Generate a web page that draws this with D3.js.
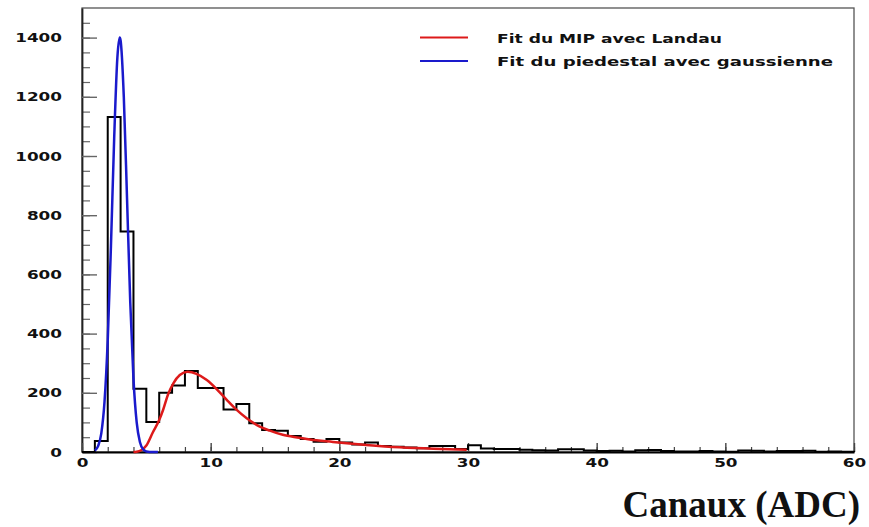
<!DOCTYPE html>
<html>
<head>
<meta charset="utf-8">
<script src="https://cdn.jsdelivr.net/npm/d3@7"></script>
<style>
  html, body { margin: 0; padding: 0; background: #fff; }
  svg { display: block; }
</style>
</head>
<body>
<svg id="chart" width="869" height="527"></svg>
<script>
// ADC spectrum: counts per channel (bins of width 1, from 0 to 60)
const binCounts = [
  0, 37, 1132, 745, 214, 101, 200, 225, 274, 216,
  216, 144, 162, 97, 74, 72, 54, 44, 35, 44,
  32, 25, 32, 20, 18, 15, 13, 20, 20, 10,
  23, 12, 10, 10, 8, 6, 5, 9, 9, 5,
  3, 4, 2, 6, 7, 3, 2, 2, 3, 2,
  1, 5, 4, 2, 3, 3, 4, 1, 2, 1
];

// Pedestal fit (gaussian), sampled along the curve
const gaussX = [1.0, 1.25, 1.5, 1.75, 2.0, 2.25, 2.5, 2.75, 2.93, 3.0, 3.25, 3.5, 3.75, 4.0, 4.25, 4.5, 4.75, 5.0, 5.5, 5.9];
const gaussY = [5, 20, 63, 170, 378, 696, 1058, 1333, 1400, 1390, 1199, 856, 506, 248, 100, 34, 9, 2, 0, 0];

// MIP fit (Landau), sampled along the curve
const landauX = [4.0, 4.25, 4.6, 5.0, 5.5, 6.0, 6.3, 6.7, 7.1, 7.6, 8.2, 8.9, 9.7, 10.5, 11.25, 12.0, 12.8, 13.6, 14.6, 15.6, 16.9, 17.7, 19.5, 22.1, 24.7, 27.3, 29.9];
const landauY = [0, 1, 6, 22, 66, 108, 142, 196, 232, 260, 271, 264, 243, 211, 176, 143, 114, 91, 72, 58, 48, 42, 34, 24, 16, 11, 8];

const xMajorTicks = [0, 10, 20, 30, 40, 50, 60];
const xMinorTicks = d3.range(0, 61, 2);
const yMajorTicks = [0, 200, 400, 600, 800, 1000, 1200, 1400];
const yMinorTicks = d3.range(0, 1451, 50);

const legendLabels = ["Fit du MIP avec Landau", "Fit du piedestal avec gaussienne"];
const legendColors = ["#dd1a1a", "#1a1acc"];
const axisTitle = "Canaux (ADC)";

const svg = d3.select("#chart");

const x = d3.scaleLinear().domain([0, 60]).range([82, 854]);
const y = d3.scaleLinear().domain([0, 1500]).range([452, 8]);

const plain = d => String(d);

// frame
svg.append("rect")
  .attr("x", x(0)).attr("y", y(1500))
  .attr("width", x(60) - x(0)).attr("height", y(0) - y(1500))
  .attr("fill", "none").attr("stroke", "#555").attr("stroke-width", 1.3);

const tickFont = "'DejaVu Sans', sans-serif";

// y axis: minor ticks
svg.append("g")
  .attr("transform", `translate(${x(0)},0)`)
  .call(d3.axisLeft(y).tickValues(yMinorTicks).tickSize(-8).tickFormat(""))
  .call(g => g.select(".domain").remove())
  .call(g => g.selectAll("line").attr("stroke", "#666").attr("stroke-width", 1.2));

// y axis: major ticks and labels
svg.append("g")
  .attr("transform", `translate(${x(0)},0)`)
  .call(d3.axisLeft(y).tickValues(yMajorTicks).tickFormat(plain).tickSize(-15).tickPadding(20).tickSizeOuter(0))
  .call(g => g.select(".domain").attr("stroke", "#222").attr("stroke-width", 1.8))
  .call(g => g.selectAll("line").attr("stroke", "#666").attr("stroke-width", 1.4))
  .call(g => g.selectAll("text")
    .attr("font-family", tickFont).attr("font-weight", "bold").attr("font-size", 13)
    .attr("fill", "#111")
    .attr("textLength", d => plain(d).length * 11.7)
    .attr("lengthAdjust", "spacingAndGlyphs"));

// x axis: minor ticks
svg.append("g")
  .attr("transform", `translate(0,${y(0)})`)
  .call(d3.axisBottom(x).tickValues(xMinorTicks).tickSize(-5).tickFormat(""))
  .call(g => g.select(".domain").remove())
  .call(g => g.selectAll("line").attr("stroke", "#444").attr("stroke-width", 1.2));

// x axis: major ticks and labels
svg.append("g")
  .attr("transform", `translate(0,${y(0)})`)
  .call(d3.axisBottom(x).tickValues(xMajorTicks).tickFormat(plain).tickSize(-9).tickSizeOuter(0))
  .call(g => g.select(".domain").attr("stroke", "#000").attr("stroke-width", 2.2))
  .call(g => g.selectAll("line").attr("stroke", "#444").attr("stroke-width", 1.4))
  .call(g => g.selectAll("text")
    .attr("y", 15).attr("dy", 0)
    .attr("font-family", tickFont).attr("font-weight", "bold").attr("font-size", 13)
    .attr("fill", "#111")
    .attr("textLength", d => plain(d).length * 11.7)
    .attr("lengthAdjust", "spacingAndGlyphs"));

// histogram outline (step)
const stepPts = [[0, 0]];
binCounts.forEach((v, i) => { stepPts.push([i, v]); stepPts.push([i + 1, v]); });
stepPts.push([60, 0]);

svg.append("path")
  .datum(stepPts)
  .attr("fill", "none")
  .attr("stroke", "#000")
  .attr("stroke-width", 2)
  .attr("stroke-linejoin", "miter")
  .attr("d", d3.line().x(d => x(d[0])).y(d => y(d[1])));

// fit curves
const fitLine = d3.line().x(d => x(d[0])).y(d => y(d[1])).curve(d3.curveMonotoneX);

svg.append("path")
  .datum(landauX.map((v, i) => [v, landauY[i]]))
  .attr("fill", "none").attr("stroke", legendColors[0]).attr("stroke-width", 2.5)
  .attr("d", fitLine);

svg.append("path")
  .datum(gaussX.map((v, i) => [v, gaussY[i]]))
  .attr("fill", "none").attr("stroke", legendColors[1]).attr("stroke-width", 2.5)
  .attr("d", fitLine);

// legend
const legend = svg.append("g");
legendLabels.forEach((label, i) => {
  const ly = 37.5 + i * 23.5;
  legend.append("line")
    .attr("x1", 420).attr("x2", 468).attr("y1", ly).attr("y2", ly)
    .attr("stroke", legendColors[i]).attr("stroke-width", 2.2);
  legend.append("text")
    .attr("x", 497).attr("y", ly + 5)
    .attr("font-family", tickFont).attr("font-size", 12.5).attr("font-weight", "bold")
    .attr("fill", "#111")
    .attr("textLength", i === 0 ? 225 : 336)
    .attr("lengthAdjust", "spacingAndGlyphs")
    .text(label);
});

// axis title
svg.append("text")
  .attr("x", 860).attr("y", 517)
  .attr("text-anchor", "end")
  .attr("font-family", "'Liberation Serif', 'Times New Roman', serif")
  .attr("font-weight", "bold")
  .attr("font-size", 37)
  .attr("fill", "#111")
  .text(axisTitle);
</script>
</body>
</html>
